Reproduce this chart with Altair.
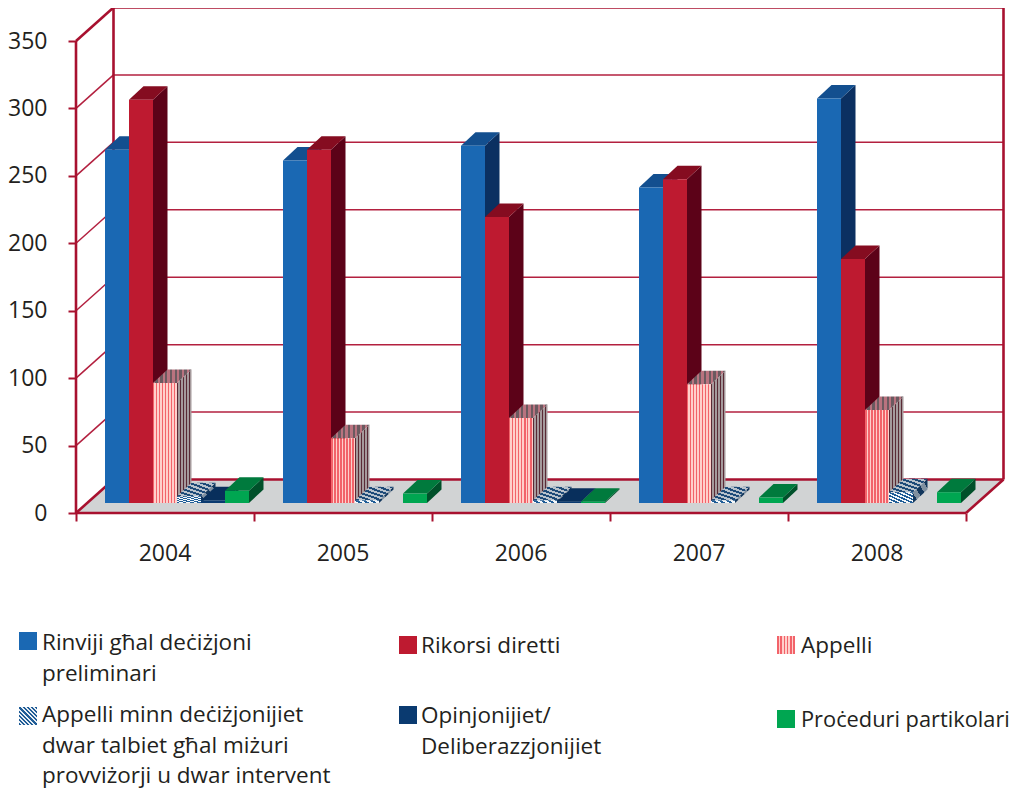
import altair as alt
import pandas as pd

years = ["2004", "2005", "2006", "2007", "2008"]
rinviji = [262, 254, 265, 234, 300]
rikorsi = [299, 262, 212, 240, 181]
appelli = [89, 48, 63, 88, 69]
appelli_minn = [5, 2, 2, 2, 8]
opinjonijiet = [2, 0, 1, 0, 0]
proceduri = [9, 7, 1, 4, 8]
y_ticks = [0, 50, 100, 150, 200, 250, 300, 350]

legend_labels = [
    "Rinviji għal deċiżjoni\npreliminari",
    "Rikorsi diretti",
    "Appelli",
    "Appelli minn deċiżjonijiet\ndwar talbiet għal miżuri\nprovviżorji u dwar intervent",
    "Opinjonijiet/\nDeliberazzjonijiet",
    "Proċeduri partikolari",
]

W, H = 1003, 783
UX = 178.0          # px per category
UY = 472 / 350      # px per value unit
X0, Y0 = 68.0, 505.0  # svg position of the origin
xs = alt.Scale(domain=[-X0 / UX, (W - X0) / UX], nice=False, zero=False)
ys = alt.Scale(domain=[(Y0 - H) / UY, Y0 / UY], nice=False, zero=False)


def pxx(page_x):
    return (page_x - 8 - X0) / UX


def pxy(page_y):
    return (Y0 - (page_y - 8)) / UY


def stripes(colors, n, **direction):
    stops = []
    k = len(colors)
    for i in range(n):
        stops.append({"offset": i / n, "color": colors[i % k]})
        stops.append({"offset": (i + 1) / n, "color": colors[i % k]})
    out = {"gradient": "linear", "stops": stops}
    out.update(direction)
    return out


VERT = dict(x1=0, y1=0, x2=1, y2=0)
DIAG = dict(x1=0, y1=1, x2=1, y2=0)

BACK_X = 37.5 / UX
BACK_Y = 33.5 / UY
BAR_OFF = 29 / UX
BAR_W = 24 / UX
DEPTH_X = 14.5 / UX
DEPTH_Y = 13.5 / UY
BASE = 10 / UY
FRAME = "#A8112F"
GRID = "#B3203F"
TEXT = "#231F20"
FLOOR = "#D1D3D4"

series = [
    (rinviji, "#1A68B3", "#134F8F", "#0B3061"),
    (rikorsi, "#BE1A30", "#850C20", "#5C0218"),
    (appelli,
     stripes(["#F2636A", "#FFCFCB"], 16, **VERT),
     stripes(["#B9737F", "#6B5A60"], 16, **VERT),
     stripes(["#5A2A35", "#A59A9C"], 10, **VERT)),
    (appelli_minn,
     stripes(["#1F5C96", "#F4F8FB"], 13, **DIAG),
     stripes(["#1D4A78", "#B8C2CC"], 13, **DIAG),
     stripes(["#12365C", "#8090A0"], 5, **DIAG)),
    (opinjonijiet, "#0A3A70", "#082F5C", "#06244A"),
    (proceduri, "#00A651", "#007A3D", "#00502A"),
]

axis_style = dict(domain=False, grid=False, tickColor=FRAME, tickWidth=2, tickSize=8)
x_axis = alt.Axis(values=[0, 1, 2, 3, 4, 5], labels=False, offset=-(H - Y0), **axis_style)
y_axis = alt.Axis(values=y_ticks, offset=-X0, labelPadding=21, labelFontSize=23,
                  labelColor=TEXT, labelFont="Open Sans", **axis_style)


def X(f="x"):
    return alt.X(f"{f}:Q", scale=xs, axis=x_axis, title=None)


def Y(f="y"):
    return alt.Y(f"{f}:Q", scale=ys, axis=y_axis, title=None, stack=None)


def area(rows, fill):
    return alt.Chart(pd.DataFrame(rows)).mark_area(fill=fill).encode(
        x=X(), y=Y(), y2=alt.Y2("y2:Q"), detail="k:N"
    )


def rules(rows, color, width):
    return alt.Chart(pd.DataFrame(rows)).mark_rule(color=color, strokeWidth=width).encode(
        x=X(), x2=alt.X2("x2:Q"), y=Y(), y2=alt.Y2("y2:Q")
    )


layers = []

# floor
layers.append(area([
    {"k": 0, "x": 0, "y": 0, "y2": 0},
    {"k": 0, "x": BACK_X, "y": BACK_Y, "y2": 0},
    {"k": 0, "x": 5, "y": BACK_Y, "y2": 0},
    {"k": 0, "x": 5 + BACK_X, "y": BACK_Y, "y2": BACK_Y},
], FLOOR))

# wall grid
grid_rows = []
for v in y_ticks[1:-1]:
    grid_rows.append({"x": 0, "x2": BACK_X, "y": v, "y2": v + BACK_Y})
    grid_rows.append({"x": BACK_X, "x2": 5 + BACK_X, "y": v + BACK_Y, "y2": v + BACK_Y})
layers.append(rules(grid_rows, GRID, 1.5))

# frame
frame_rows = [
    {"x": 0, "x2": 0, "y": 0, "y2": 350},
    {"x": BACK_X, "x2": BACK_X, "y": BACK_Y, "y2": 350 + BACK_Y},
    {"x": 5 + BACK_X, "x2": 5 + BACK_X, "y": BACK_Y, "y2": 350 + BACK_Y},
    {"x": BACK_X, "x2": 5 + BACK_X, "y": 350 + BACK_Y, "y2": 350 + BACK_Y},
    {"x": 0, "x2": BACK_X, "y": 350, "y2": 350 + BACK_Y},
    {"x": 0, "x2": 5, "y": 0, "y2": 0},
    {"x": BACK_X, "x2": 5 + BACK_X, "y": BACK_Y, "y2": BACK_Y},
    {"x": 0, "x2": BACK_X, "y": 0, "y2": BACK_Y},
    {"x": 5, "x2": 5 + BACK_X, "y": 0, "y2": BACK_Y},
]
layers.append(rules(frame_rows, FRAME, 2.6))

# 3-D bars
for s, (values, front, top, side) in enumerate(series):
    front_rows, top_rows, side_rows = [], [], []
    for i, v in enumerate(values):
        if v == 0:
            continue
        x0 = i + BAR_OFF + s * BAR_W
        x1 = x0 + BAR_W
        b, t = BASE, BASE + v
        front_rows.append({"x": x0, "x2": x1, "y": b, "y2": t})
        for x, yu, yl in [(x1, t, b), (x1 + DEPTH_X, t + DEPTH_Y, b + DEPTH_Y)]:
            side_rows.append({"k": i, "x": x, "y": yu, "y2": yl})
        for x, yu, yl in [(x0, t, t), (x0 + DEPTH_X, t + DEPTH_Y, t),
                          (x1, t + DEPTH_Y, t), (x1 + DEPTH_X, t + DEPTH_Y, t + DEPTH_Y)]:
            top_rows.append({"k": i, "x": x, "y": yu, "y2": yl})
    layers.append(area(side_rows, side))
    layers.append(area(top_rows, top))
    layers.append(
        alt.Chart(pd.DataFrame(front_rows)).mark_rect(fill=front, strokeWidth=0).encode(
            x=X(), x2=alt.X2("x2:Q"), y=Y(), y2=alt.Y2("y2:Q")
        )
    )

# category labels
layers.append(
    alt.Chart(pd.DataFrame({"t": years, "x": [i + 0.5 for i in range(5)], "y": [pxy(561)] * 5}))
    .mark_text(font="Open Sans", fontSize=23, color=TEXT, align="center", baseline="alphabetic")
    .encode(x=X(), y=Y(), text="t:N")
)

# legend
SW_X = [19, 399, 777, 19, 399, 777]
SW_B = [650, 654, 654, 725, 724, 728]
TXT_X = [42, 421, 801, 42, 421, 801]
TXT_Y = [650, 653, 653, 722, 723, 727]
TXT_SIZE = [22.5, 22.5, 22.5, 22.5, 22.5, 21.8]
legend_fills = [s[1] for s in series]
legend_fills[2] = stripes(["#F2636A", "#FFCFCB"], 11, **VERT)
legend_fills[3] = stripes(["#1F5C96", "#E8EEF4"], 17, **DIAG)
for j, fill in enumerate(legend_fills):
    layers.append(
        alt.Chart(pd.DataFrame([{
            "x": pxx(SW_X[j]), "x2": pxx(SW_X[j] + 18),
            "y": pxy(SW_B[j]), "y2": pxy(SW_B[j] - 18),
        }])).mark_rect(fill=fill, strokeWidth=0).encode(
            x=X(), x2=alt.X2("x2:Q"), y=Y(), y2=alt.Y2("y2:Q")
        )
    )
layers.append(
    alt.Chart(pd.DataFrame({
        "t": legend_labels,
        "x": [pxx(v) for v in TXT_X],
        "y": [pxy(v) for v in TXT_Y],
        "fs": TXT_SIZE,
    })).mark_text(font="Open Sans", color=TEXT, align="left",
                  baseline="alphabetic", lineBreak="\n", lineHeight=30.5)
    .encode(x=X(), y=Y(), text="t:N", size=alt.Size("fs:Q", scale=None, legend=None))
)

chart = (
    alt.layer(*layers)
    .properties(width=W, height=H, padding=0, background="white",
                autosize=alt.AutoSizeParams(type="none"))
    .configure_view(stroke=None)
)
chart.save("out.html", embed_options={"renderer": "svg", "actions": False})
